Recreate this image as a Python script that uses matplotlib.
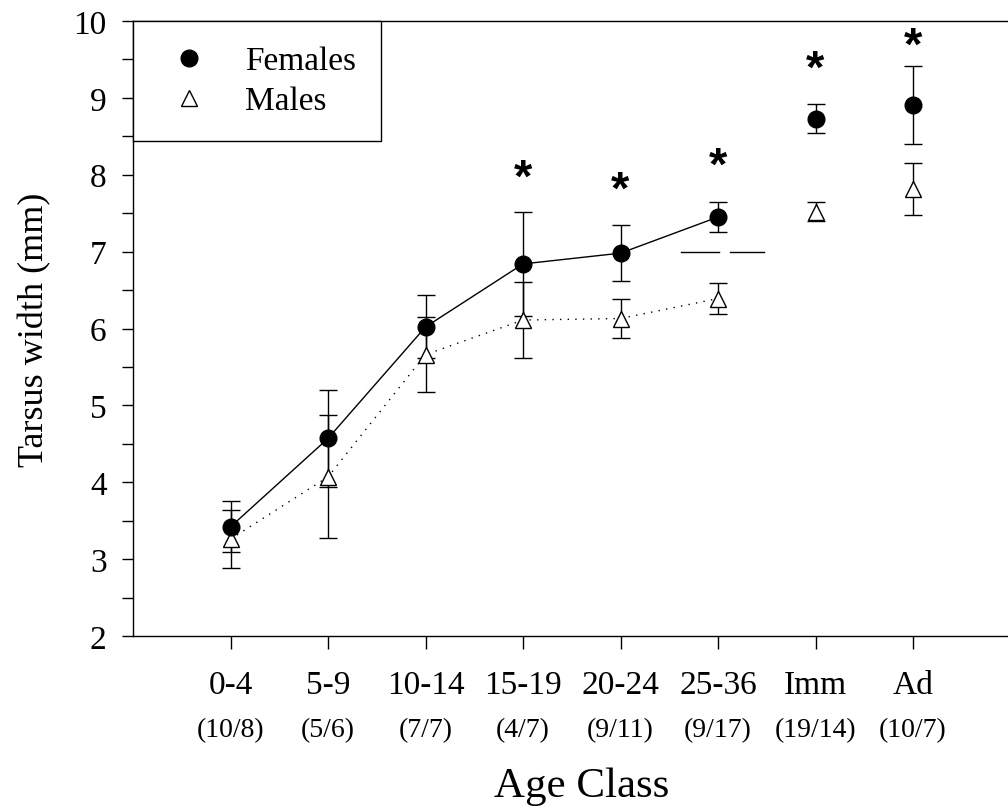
import numpy as np
import matplotlib
matplotlib.use("Agg")
import matplotlib.pyplot as plt
import matplotlib.transforms as mtransforms
from matplotlib.lines import Line2D

plt.rcParams['font.family'] = ['Liberation Serif', 'DejaVu Serif']

# age classes and sample sizes (females/males)
categories = ['0-4', '5-9', '10-14', '15-19', '20-24', '25-36', 'Imm', 'Ad']
sample_sizes = ['(10/8)', '(5/6)', '(7/7)', '(4/7)', '(9/11)', '(9/17)', '(19/14)', '(10/7)']

fem_mean = [3.42, 4.57, 6.02, 6.84, 6.98, 7.45, 8.73, 8.91]
fem_err = [0.33, 0.63, 0.41, 0.68, 0.36, 0.20, 0.19, 0.51]
male_mean = [3.26, 4.07, 5.66, 6.11, 6.13, 6.39, 7.52, 7.81]
male_err = [0.38, 0.80, 0.49, 0.50, 0.26, 0.20, 0.12, 0.34]

# significant differences marked with *
star_idx = [3, 4, 5, 6, 7]
star_y = [7.95, 7.79, 8.11, 9.36, 9.66]

# short reference line near 25-36
ref_y = 7.0
ref_x_start = [5.62, 6.12]
ref_x_end = [6.01, 6.47]

n_linked = 6  # first six classes joined by lines

x = np.arange(1, len(categories) + 1)

fig = plt.figure(figsize=(10.08, 8.12), dpi=100)
ax = fig.add_axes([133 / 1008, 175 / 812, 877.5 / 1008, 615 / 812])

ekw = dict(ecolor='black', elinewidth=1, capsize=6.5, capthick=1)

# lines joining juvenile classes
ax.plot(x[:n_linked], fem_mean[:n_linked], color='black', lw=1, zorder=2)
ax.plot(x[:n_linked], male_mean[:n_linked], color='black', lw=1,
        linestyle=(0, (1, 4.5)), zorder=2)

ax.errorbar(x, male_mean, yerr=male_err, fmt='none', zorder=3, **ekw)
ax.errorbar(x, fem_mean, yerr=fem_err, fmt='none', zorder=3, **ekw)
ax.plot(x, male_mean, linestyle='none', marker='^', markersize=11,
        markerfacecolor='white', markeredgecolor='black', markeredgewidth=1, zorder=4)
ax.plot(x, fem_mean, linestyle='none', marker='o', markersize=12,
        markerfacecolor='black', markeredgecolor='black', zorder=5)

for xs, xe in zip(ref_x_start, ref_x_end):
    ax.plot([xs, xe], [ref_y, ref_y], color='black', lw=1)

for i, sy in zip(star_idx, star_y):
    ax.text(x[i], sy, '*', ha='center', va='center', fontsize=34,
            fontweight='bold', family='Liberation Sans')

ax.set_xlim(0, 9)
ax.set_ylim(2, 10)
ax.set_xticks(x)
ax.set_xticklabels(categories, fontsize=24)
ax.set_yticks(np.arange(2, 11, 1))
ax.set_yticks(np.arange(2.5, 10, 1), minor=True)
ax.tick_params(axis='y', which='major', labelsize=24, direction='out', length=8, width=1, pad=11)
ax.tick_params(axis='y', which='minor', direction='out', length=8, width=1)
ax.tick_params(axis='x', direction='out', length=9, width=1, pad=15)
for sp in ax.spines.values():
    sp.set_linewidth(1)

trans = mtransforms.blended_transform_factory(ax.transData, ax.transAxes)
for xi, lab in zip(x, sample_sizes):
    ax.text(xi, -0.152, lab, transform=trans, ha='center', va='center', fontsize=20)

ax.set_ylabel('Tarsus width (mm)', fontsize=26, labelpad=16)
fig.text(582 / 1008, 1 - 787 / 812, 'Age Class', ha='center', va='center', fontsize=31)

handles = [Line2D([], [], linestyle='none', marker='o', markersize=12,
                  markerfacecolor='black', markeredgecolor='black'),
           Line2D([], [], linestyle='none', marker='^', markersize=11,
                  markerfacecolor='white', markeredgecolor='black')]
leg = ax.legend(handles, ['Females', 'Males'], loc='upper left', bbox_to_anchor=(0, 1),
                borderaxespad=0, fontsize=24, frameon=True, fancybox=False,
                edgecolor='black', framealpha=1, borderpad=0.75, handlelength=1.85,
                handletextpad=0.75, labelspacing=0.28)
leg.get_frame().set_linewidth(1)

fig.savefig('out.png', dpi=100)
